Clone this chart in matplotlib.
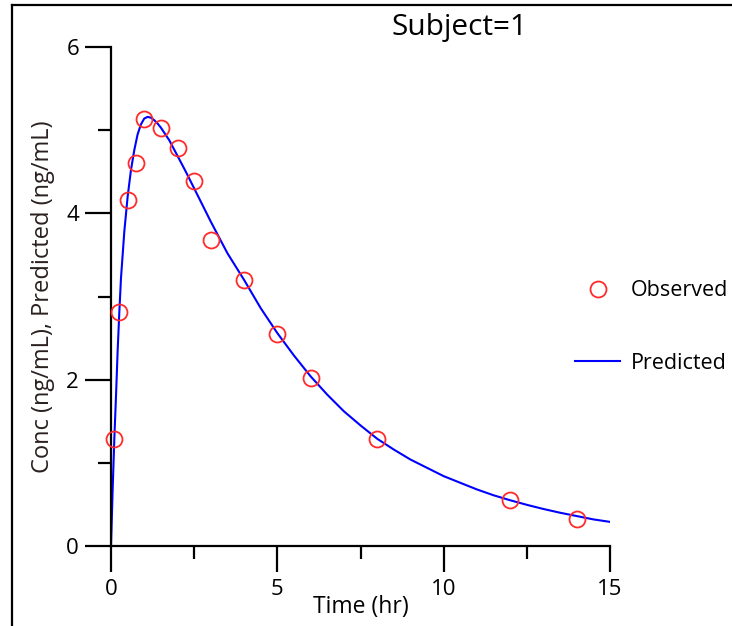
import matplotlib
matplotlib.use("Agg")
import matplotlib.pyplot as plt
from matplotlib.lines import Line2D
from matplotlib.ticker import FixedLocator

plt.rcParams['font.family'] = ['Open Sans', 'DejaVu Sans']

# Observed data (Subject=1)
obs_time = [0.1, 0.25, 0.5, 0.75, 1.0, 1.5, 2.0, 2.5, 3.0, 4.0, 5.0, 6.0, 8.0, 12.0, 14.0]
obs_conc = [1.29, 2.81, 4.16, 4.60, 5.13, 5.03, 4.79, 4.39, 3.68, 3.20, 2.55, 2.02, 1.29, 0.55, 0.32]

# Predicted curve
pred_time = [0, 0.05, 0.1, 0.15, 0.2, 0.25, 0.3, 0.4, 0.5, 0.6, 0.7, 0.8, 0.9, 1.0, 1.1,
             1.2, 1.3, 1.4, 1.5, 1.75, 2.0, 2.25, 2.5, 2.75, 3.0, 3.25, 3.5, 3.75, 4.0,
             4.5, 5.0, 5.5, 6.0, 6.5, 7.0, 7.5, 8.0, 8.5, 9.0, 9.5, 10.0, 10.5, 11.0,
             11.5, 12.0, 12.5, 13.0, 13.5, 14.0, 14.5, 15.0]
pred_conc = [0, 0.68, 1.29, 1.80, 2.35, 2.81, 3.22, 3.78, 4.20, 4.52, 4.76, 4.95, 5.07, 5.14, 5.16,
             5.15, 5.12, 5.08, 5.03, 4.88, 4.69, 4.50, 4.30, 4.10, 3.90, 3.71, 3.52, 3.36, 3.20,
             2.86, 2.56, 2.29, 2.04, 1.82, 1.62, 1.45, 1.29, 1.16, 1.04, 0.94, 0.84, 0.76, 0.68,
             0.61, 0.55, 0.495, 0.445, 0.40, 0.36, 0.32, 0.29]

x_major = [0, 5, 10, 15]
x_minor = [2.5, 7.5, 12.5]
y_major = [0, 2, 4, 6]
y_minor = [1, 3, 5]

W, H = 732, 626
fig = plt.figure(figsize=(W / 100, H / 100), dpi=100)
ax = fig.add_axes([111 / W, 1 - 546 / H, (610 - 111) / W, (546 - 47) / H])

line, = ax.plot(pred_time, pred_conc, color='#0000ff', lw=1.5, zorder=2)
pts, = ax.plot(obs_time, obs_conc, linestyle='none', marker='o', markersize=11.5,
               markerfacecolor='none', markeredgecolor='#ff2a2a', markeredgewidth=1.3,
               clip_on=False, zorder=3)

ax.set_xlim(0, 15)
ax.set_ylim(0, 6)
for s in ['top', 'right']:
    ax.spines[s].set_visible(False)
for s in ['left', 'bottom']:
    ax.spines[s].set_linewidth(1.6)
    ax.spines[s].set_color('black')

ax.xaxis.set_major_locator(FixedLocator(x_major))
ax.xaxis.set_minor_locator(FixedLocator(x_minor))
ax.yaxis.set_major_locator(FixedLocator(y_major))
ax.yaxis.set_minor_locator(FixedLocator(y_minor))
ax.set_xticklabels([str(v) for v in x_major])
ax.set_yticklabels([str(v) for v in y_major])
ax.tick_params(which='major', direction='out', length=19, width=1.6, labelsize=16, color='black')
ax.tick_params(axis='x', which='major', pad=5)
ax.tick_params(axis='y', which='major', pad=4)
ax.tick_params(which='minor', direction='out', length=9.5, width=1.6, color='black')

ax.set_xlabel('Time (hr)', fontsize=16.5, labelpad=-4)
ax.set_ylabel('Conc (ng/mL), Predicted (ng/mL)', fontsize=17, color='#2a2020', labelpad=8)

fig.text(460 / W, 1 - 28 / H, 'Subject=1', fontsize=21.5, ha='center', va='center')

fig.legend([pts, line], ['Observed', 'Predicted'], loc='center left',
           bbox_to_anchor=(575 / W, 1 - 327 / H), frameon=False, fontsize=15.5,
           handlelength=2.1, handletextpad=0.5, labelspacing=2.37, borderpad=0,
           borderaxespad=0)

# outer frame lines (left and top)
fig.add_artist(Line2D([12 / W, 12 / W], [0, 1 - 5 / H], color='black', lw=1.6, transform=fig.transFigure))
fig.add_artist(Line2D([12 / W, 1], [1 - 5 / H, 1 - 5 / H], color='black', lw=1.6, transform=fig.transFigure))

fig.savefig('out.png', dpi=100)
